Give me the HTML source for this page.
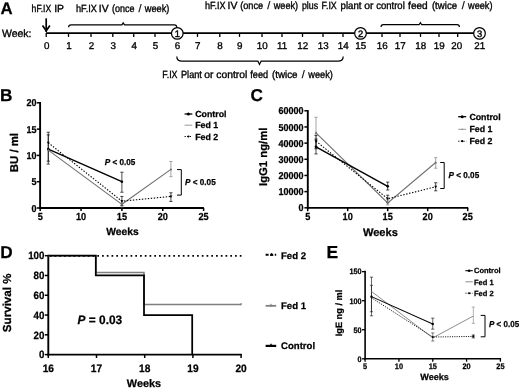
<!DOCTYPE html>
<html><head><meta charset="utf-8"><title>Figure</title>
<style>
html,body{margin:0;padding:0;background:#fff;}
body{width:520px;height:389px;overflow:hidden;font-family:"Liberation Sans",sans-serif;}
svg{display:block;font-family:"Liberation Sans",sans-serif;filter:blur(0.35px);}
</style></head><body>
<svg width="520" height="389" viewBox="0 0 520 389" text-rendering="geometricPrecision">
<rect width="520" height="389" fill="#fff"/>
<g fill="none" stroke="#000">
<text x="0.5" y="14.1" font-size="16.8" font-weight="bold" fill="#000" stroke-width="0.25">A</text>
<text x="31.6" y="12.2" font-size="10.4" textLength="19.6" lengthAdjust="spacingAndGlyphs" fill="#000" stroke-width="0.35">hF.IX</text>
<text x="59.05" y="12.2" font-size="10.4" text-anchor="middle" fill="#000" stroke-width="0.35">IP</text>
<text x="76" y="12.2" font-size="10.4" textLength="20.9" lengthAdjust="spacingAndGlyphs" fill="#000" stroke-width="0.35">hF.IX</text>
<text x="103.75" y="12.2" font-size="10.4" text-anchor="middle" fill="#000" stroke-width="0.35">IV</text>
<text x="111.9" y="12.2" font-size="10.4" textLength="22.5" lengthAdjust="spacingAndGlyphs" fill="#000" stroke-width="0.35">(once</text>
<text x="140" y="12.2" font-size="11.0" text-anchor="middle" fill="#000" stroke-width="0.15">/</text>
<text x="144.75" y="12.2" font-size="10.4" textLength="24.65" lengthAdjust="spacingAndGlyphs" fill="#000" stroke-width="0.35">week)</text>
<text x="205" y="9" font-size="10.4" textLength="20.6" lengthAdjust="spacingAndGlyphs" fill="#000" stroke-width="0.35">hF.IX</text>
<text x="232.5" y="9" font-size="10.4" text-anchor="middle" fill="#000" stroke-width="0.35">IV</text>
<text x="240.25" y="9" font-size="10.4" textLength="22.85" lengthAdjust="spacingAndGlyphs" fill="#000" stroke-width="0.35">(once</text>
<text x="268.75" y="9" font-size="11.0" text-anchor="middle" fill="#000" stroke-width="0.15">/</text>
<text x="273.75" y="9" font-size="10.4" textLength="24.35" lengthAdjust="spacingAndGlyphs" fill="#000" stroke-width="0.35">week)</text>
<text x="301.9" y="9" font-size="10.4" textLength="16.2" lengthAdjust="spacingAndGlyphs" fill="#000" stroke-width="0.35">plus</text>
<text x="321.5" y="9" font-size="10.4" textLength="15.3" lengthAdjust="spacingAndGlyphs" fill="#000" stroke-width="0.35">F.IX</text>
<text x="340.6" y="9" font-size="10.4" textLength="20.9" lengthAdjust="spacingAndGlyphs" fill="#000" stroke-width="0.35">plant</text>
<text x="368.75" y="9" font-size="10.4" text-anchor="middle" fill="#000" stroke-width="0.35">or</text>
<text x="376.25" y="9" font-size="10.4" textLength="28.5" lengthAdjust="spacingAndGlyphs" fill="#000" stroke-width="0.35">control</text>
<text x="408.1" y="9" font-size="10.4" textLength="19.65" lengthAdjust="spacingAndGlyphs" fill="#000" stroke-width="0.35">feed</text>
<text x="431.9" y="9" font-size="10.4" textLength="25.2" lengthAdjust="spacingAndGlyphs" fill="#000" stroke-width="0.35">(twice</text>
<text x="463.3" y="9" font-size="11.0" text-anchor="middle" fill="#000" stroke-width="0.15">/</text>
<text x="468.1" y="9" font-size="10.4" textLength="24.4" lengthAdjust="spacingAndGlyphs" fill="#000" stroke-width="0.35">week)</text>
<text x="162.25" y="78.3" font-size="10.4" textLength="15.25" lengthAdjust="spacingAndGlyphs" fill="#000" stroke-width="0.35">F.IX</text>
<text x="181" y="78.3" font-size="10.4" textLength="20.9" lengthAdjust="spacingAndGlyphs" fill="#000" stroke-width="0.35">Plant</text>
<text x="208.88" y="78.3" font-size="10.4" text-anchor="middle" fill="#000" stroke-width="0.35">or</text>
<text x="216.25" y="78.3" font-size="10.4" textLength="31" lengthAdjust="spacingAndGlyphs" fill="#000" stroke-width="0.35">control</text>
<text x="250.25" y="78.3" font-size="10.4" textLength="17.85" lengthAdjust="spacingAndGlyphs" fill="#000" stroke-width="0.35">feed</text>
<text x="271.9" y="78.3" font-size="10.4" textLength="25.6" lengthAdjust="spacingAndGlyphs" fill="#000" stroke-width="0.35">(twice</text>
<text x="303.2" y="78.3" font-size="11.0" text-anchor="middle" fill="#000" stroke-width="0.15">/</text>
<text x="308.3" y="78.3" font-size="10.4" textLength="24.5" lengthAdjust="spacingAndGlyphs" fill="#000" stroke-width="0.35">week)</text>
<text x="2" y="37.4" font-size="10.6" textLength="29.5" lengthAdjust="spacingAndGlyphs" fill="#000" stroke-width="0.35">Week:</text>
<path d="M46.2,18.3L46.2,32" stroke-width="1.7"/>
<path d="M42.5,25.6L46.2,30.8L49.9,25.6" stroke-width="1.7"/>
<path d="M46,33.15L479,33.15" stroke-width="1.7"/>
<path d="M46.2,33L46.2,36.9" stroke-width="1.3"/>
<text x="46.7" y="49.2" font-size="9.8" text-anchor="middle" fill="#000" stroke-width="0.33">0</text>
<path d="M68.5,33L68.5,36.9" stroke-width="1.3"/>
<text x="69" y="49.2" font-size="9.8" text-anchor="middle" fill="#000" stroke-width="0.33">1</text>
<path d="M91,33L91,36.9" stroke-width="1.3"/>
<text x="91.5" y="49.2" font-size="9.8" text-anchor="middle" fill="#000" stroke-width="0.33">2</text>
<path d="M112.8,33L112.8,36.9" stroke-width="1.3"/>
<text x="113.3" y="49.2" font-size="9.8" text-anchor="middle" fill="#000" stroke-width="0.33">3</text>
<path d="M133.75,33L133.75,36.9" stroke-width="1.3"/>
<text x="134.25" y="49.2" font-size="9.8" text-anchor="middle" fill="#000" stroke-width="0.33">4</text>
<path d="M155,33L155,36.9" stroke-width="1.3"/>
<text x="155.5" y="49.2" font-size="9.8" text-anchor="middle" fill="#000" stroke-width="0.33">5</text>
<text x="177.5" y="49.2" font-size="9.8" text-anchor="middle" fill="#000" stroke-width="0.33">6</text>
<path d="M197.5,33L197.5,36.9" stroke-width="1.3"/>
<text x="197.7" y="49.2" font-size="9.8" text-anchor="middle" fill="#000" stroke-width="0.33">7</text>
<path d="M219.8,33L219.8,36.9" stroke-width="1.3"/>
<text x="220" y="49.2" font-size="9.8" text-anchor="middle" fill="#000" stroke-width="0.33">8</text>
<path d="M239.5,33L239.5,36.9" stroke-width="1.3"/>
<text x="239.7" y="49.2" font-size="9.8" text-anchor="middle" fill="#000" stroke-width="0.33">9</text>
<path d="M262,33L262,36.9" stroke-width="1.3"/>
<text x="262.2" y="49.2" font-size="9.8" text-anchor="middle" fill="#000" stroke-width="0.33">10</text>
<path d="M282,33L282,36.9" stroke-width="1.3"/>
<text x="282.2" y="49.2" font-size="9.8" text-anchor="middle" fill="#000" stroke-width="0.33">11</text>
<path d="M302.5,33L302.5,36.9" stroke-width="1.3"/>
<text x="302.7" y="49.2" font-size="9.8" text-anchor="middle" fill="#000" stroke-width="0.33">12</text>
<path d="M323,33L323,36.9" stroke-width="1.3"/>
<text x="323.2" y="49.2" font-size="9.8" text-anchor="middle" fill="#000" stroke-width="0.33">13</text>
<path d="M343,33L343,36.9" stroke-width="1.3"/>
<text x="343.2" y="49.2" font-size="9.8" text-anchor="middle" fill="#000" stroke-width="0.33">14</text>
<text x="360.7" y="49.2" font-size="9.8" text-anchor="middle" fill="#000" stroke-width="0.33">15</text>
<path d="M382,33L382,36.9" stroke-width="1.3"/>
<text x="382.2" y="49.2" font-size="9.8" text-anchor="middle" fill="#000" stroke-width="0.33">16</text>
<path d="M400,33L400,36.9" stroke-width="1.3"/>
<text x="400.2" y="49.2" font-size="9.8" text-anchor="middle" fill="#000" stroke-width="0.33">17</text>
<path d="M420.5,33L420.5,36.9" stroke-width="1.3"/>
<text x="420.7" y="49.2" font-size="9.8" text-anchor="middle" fill="#000" stroke-width="0.33">18</text>
<path d="M439,33L439,36.9" stroke-width="1.3"/>
<text x="439.2" y="49.2" font-size="9.8" text-anchor="middle" fill="#000" stroke-width="0.33">19</text>
<path d="M457.7,33L457.7,36.9" stroke-width="1.3"/>
<text x="456.8" y="49.2" font-size="9.8" text-anchor="middle" fill="#000" stroke-width="0.33">20</text>
<text x="479.7" y="49.2" font-size="9.8" text-anchor="middle" fill="#000" stroke-width="0.33">21</text>
<circle cx="177.3" cy="33.4" r="5.8" fill="#fff" stroke="#000" stroke-width="1.2"/>
<text x="177.4" y="36.7" font-size="9.4" text-anchor="middle" fill="#000" stroke-width="0.4">1</text>
<circle cx="360.5" cy="33.4" r="5.8" fill="#fff" stroke="#000" stroke-width="1.2"/>
<text x="360.6" y="36.7" font-size="9.4" text-anchor="middle" fill="#000" stroke-width="0.4">2</text>
<circle cx="479.5" cy="33.4" r="5.8" fill="#fff" stroke="#000" stroke-width="1.2"/>
<text x="479.6" y="36.7" font-size="9.4" text-anchor="middle" fill="#000" stroke-width="0.4">3</text>
<path d="M68.6,27.3 Q68.6,24.8 71,24.8 L121.9,24.8 L123.2,22.8 L124.5,24.8 L174.3,24.8 Q176.8,24.8 176.8,27.6" stroke-width="1.2"/>
<path d="M381,27.1 Q381,24.7 383.4,24.7 L419.1,24.7 L420.4,22.6 L421.7,24.7 L457,24.7 Q459.4,24.7 459.4,27.1" stroke-width="1.2"/>
<path d="M176.8,56.5 Q176.8,61.2 182,61.2 L257.9,61.2 L259.5,64.4 L261.1,61.2 L338,61.2 Q343.2,61.2 343.2,56.5" stroke-width="1.2"/>
<text x="0.1" y="100.7" font-size="17.2" font-weight="bold" fill="#000" stroke-width="0.25">B</text>
<path d="M40.1,102L40.1,208.9" stroke-width="1.9"/>
<path d="M39.2,208L203.9,208" stroke-width="1.9"/>
<path d="M36.8,208L40,208" stroke-width="1.5"/>
<text x="0" y="0" font-size="10.0" transform="translate(36.4 211.5) scale(0.9 1)" font-weight="bold" text-anchor="end" fill="#000" stroke-width="0.25">0</text>
<path d="M36.8,181.7L40,181.7" stroke-width="1.5"/>
<text x="0" y="0" font-size="10.0" transform="translate(36.4 185.2) scale(0.9 1)" font-weight="bold" text-anchor="end" fill="#000" stroke-width="0.25">5</text>
<path d="M36.8,155.4L40,155.4" stroke-width="1.5"/>
<text x="0" y="0" font-size="10.0" transform="translate(36.4 158.9) scale(0.9 1)" font-weight="bold" text-anchor="end" fill="#000" stroke-width="0.25">10</text>
<path d="M36.8,129.1L40,129.1" stroke-width="1.5"/>
<text x="0" y="0" font-size="10.0" transform="translate(36.4 132.6) scale(0.9 1)" font-weight="bold" text-anchor="end" fill="#000" stroke-width="0.25">15</text>
<path d="M36.8,102.8L40,102.8" stroke-width="1.5"/>
<text x="0" y="0" font-size="10.0" transform="translate(36.4 106.3) scale(0.9 1)" font-weight="bold" text-anchor="end" fill="#000" stroke-width="0.25">20</text>
<path d="M40.2,208L40.2,211" stroke-width="1.5"/>
<text x="0" y="0" font-size="10.2" transform="translate(40.2 220.1) scale(0.9 1)" font-weight="bold" text-anchor="middle" fill="#000" stroke-width="0.25">5</text>
<path d="M81.05,208L81.05,211" stroke-width="1.5"/>
<text x="0" y="0" font-size="10.2" transform="translate(81.05 220.1) scale(0.9 1)" font-weight="bold" text-anchor="middle" fill="#000" stroke-width="0.25">10</text>
<path d="M121.9,208L121.9,211" stroke-width="1.5"/>
<text x="0" y="0" font-size="10.2" transform="translate(121.9 220.1) scale(0.9 1)" font-weight="bold" text-anchor="middle" fill="#000" stroke-width="0.25">15</text>
<path d="M162.75,208L162.75,211" stroke-width="1.5"/>
<text x="0" y="0" font-size="10.2" transform="translate(162.75 220.1) scale(0.9 1)" font-weight="bold" text-anchor="middle" fill="#000" stroke-width="0.25">20</text>
<path d="M203.6,208L203.6,211" stroke-width="1.5"/>
<text x="0" y="0" font-size="10.2" transform="translate(203.6 220.1) scale(0.9 1)" font-weight="bold" text-anchor="middle" fill="#000" stroke-width="0.25">25</text>
<text x="122.5" y="234.6" font-size="10.3" font-weight="bold" text-anchor="middle" fill="#000" stroke-width="0.25">Weeks</text>
<text x="17.6" y="152.6" font-size="11.4" transform="rotate(-90 17.6 152.6)" font-weight="bold" text-anchor="middle" fill="#000" stroke-width="0.25">BU / ml</text>
<path d="M48.27,164.08V132.26M46.67,164.08H49.87M46.67,132.26H49.87" stroke-width="0.7" stroke="#000"/>
<path d="M48.27,161.19V134.89M46.67,161.19H49.87M46.67,134.89H49.87" stroke-width="0.7" stroke="#000"/>
<path d="M121.9,192.22V172.23M120.3,192.22H123.5M120.3,172.23H123.5" stroke-width="0.7" stroke="#000"/>
<path d="M121.9,206.95V200.64M120.3,206.95H123.5M120.3,200.64H123.5" stroke-width="0.7" stroke="#808080"/>
<path d="M121.9,205.37V196.43M120.3,205.37H123.5M120.3,196.43H123.5" stroke-width="0.7" stroke="#000"/>
<path d="M170.92,176.7V161.45M169.32,176.7H172.52M169.32,161.45H172.52" stroke-width="0.7" stroke="#808080"/>
<path d="M170.92,201.43V192.75M169.32,201.43H172.52M169.32,192.75H172.52" stroke-width="0.7" stroke="#000"/>
<path d="M48.27,150.14L121.9,204.32L170.92,169.34" stroke-width="1.1" stroke="#707070"/>
<path d="M48.27,142.78L121.9,201.16L170.92,196.43" stroke-width="1.1" stroke-dasharray="1.4 1.6"/>
<path d="M48.27,149.09L121.9,181.7" stroke-width="1.4"/>
<circle cx="48.27" cy="149.09" r="1.3" fill="#000" stroke="none"/>
<circle cx="121.9" cy="181.7" r="1.3" fill="#000" stroke="none"/>
<path d="M169.42,195.38L170.92,197.93L172.42,195.38Z" fill="#000" stroke="none"/>
<path d="M46.87,141.8L48.27,144.18L49.67,141.8Z" fill="#000" stroke="none"/>
<path d="M120.6,200.25L121.9,202.46L123.2,200.25Z" fill="#000" stroke="none"/>
<path d="M46.97,151.05L48.27,148.84L49.57,151.05Z" fill="#707070" stroke="none"/>
<path d="M120.6,205.23L121.9,203.02L123.2,205.23Z" fill="#707070" stroke="none"/>
<path d="M169.52,170.32L170.92,167.94L172.32,170.32Z" fill="#707070" stroke="none"/>
<text x="104.8" y="165.4" font-size="8.6" font-weight="bold" fill="#000" stroke-width="0.25" textLength="30.6" lengthAdjust="spacingAndGlyphs"><tspan font-style="italic">P</tspan> &lt; 0.05</text>
<path d="M177,169.6L181.3,169.6L181.3,195.1L177,195.1" stroke-width="1"/>
<text x="185.1" y="185.1" font-size="8.6" font-weight="bold" fill="#000" stroke-width="0.25" textLength="30.6" lengthAdjust="spacingAndGlyphs"><tspan font-style="italic">P</tspan> &lt; 0.05</text>
<path d="M184.6,114L192.3,114" stroke-width="1.3"/>
<circle cx="188.4" cy="114" r="1.5" fill="#000" stroke="none"/>
<text x="195.2" y="117.1" font-size="8.8" font-weight="bold" fill="#000" stroke-width="0.25">Control</text>
<path d="M184.6,125.2L192.3,125.2" stroke-width="1.0" stroke="#999"/>
<text x="195.2" y="128.3" font-size="8.8" font-weight="bold" fill="#000" stroke-width="0.25">Fed 1</text>
<path d="M184.6,136.5L192.3,136.5" stroke-width="1.1" stroke-dasharray="1.2 1.4"/>
<circle cx="188.4" cy="136.5" r="1.1" fill="#000" stroke="none"/>
<text x="195.2" y="139.6" font-size="8.8" font-weight="bold" fill="#000" stroke-width="0.25">Fed 2</text>
<text x="250.4" y="101.1" font-size="17.2" font-weight="bold" fill="#000" stroke-width="0.25">C</text>
<path d="M307.8,110L307.8,208.8" stroke-width="1.9"/>
<path d="M306.9,207.9L468.2,207.9" stroke-width="1.9"/>
<path d="M304.4,207.8L307.7,207.8" stroke-width="1.5"/>
<text x="0" y="0" font-size="10.0" transform="translate(303.5 211.35) scale(0.9 1)" font-weight="bold" text-anchor="end" fill="#000" stroke-width="0.25">0</text>
<path d="M304.4,191.63L307.7,191.63" stroke-width="1.5"/>
<text x="0" y="0" font-size="10.0" transform="translate(303.5 195.18) scale(0.9 1)" font-weight="bold" text-anchor="end" fill="#000" stroke-width="0.25">10000</text>
<path d="M304.4,175.46L307.7,175.46" stroke-width="1.5"/>
<text x="0" y="0" font-size="10.0" transform="translate(303.5 179.01) scale(0.9 1)" font-weight="bold" text-anchor="end" fill="#000" stroke-width="0.25">20000</text>
<path d="M304.4,159.29L307.7,159.29" stroke-width="1.5"/>
<text x="0" y="0" font-size="10.0" transform="translate(303.5 162.84) scale(0.9 1)" font-weight="bold" text-anchor="end" fill="#000" stroke-width="0.25">30000</text>
<path d="M304.4,143.12L307.7,143.12" stroke-width="1.5"/>
<text x="0" y="0" font-size="10.0" transform="translate(303.5 146.67) scale(0.9 1)" font-weight="bold" text-anchor="end" fill="#000" stroke-width="0.25">40000</text>
<path d="M304.4,126.95L307.7,126.95" stroke-width="1.5"/>
<text x="0" y="0" font-size="10.0" transform="translate(303.5 130.5) scale(0.9 1)" font-weight="bold" text-anchor="end" fill="#000" stroke-width="0.25">50000</text>
<path d="M304.4,110.78L307.7,110.78" stroke-width="1.5"/>
<text x="0" y="0" font-size="10.0" transform="translate(303.5 114.33) scale(0.9 1)" font-weight="bold" text-anchor="end" fill="#000" stroke-width="0.25">60000</text>
<path d="M307.7,207.9L307.7,211.2" stroke-width="1.5"/>
<text x="0" y="0" font-size="10.2" transform="translate(307.7 220.1) scale(0.9 1)" font-weight="bold" text-anchor="middle" fill="#000" stroke-width="0.25">5</text>
<path d="M347.7,207.9L347.7,211.2" stroke-width="1.5"/>
<text x="0" y="0" font-size="10.2" transform="translate(347.7 220.1) scale(0.9 1)" font-weight="bold" text-anchor="middle" fill="#000" stroke-width="0.25">10</text>
<path d="M387.7,207.9L387.7,211.2" stroke-width="1.5"/>
<text x="0" y="0" font-size="10.2" transform="translate(387.7 220.1) scale(0.9 1)" font-weight="bold" text-anchor="middle" fill="#000" stroke-width="0.25">15</text>
<path d="M427.7,207.9L427.7,211.2" stroke-width="1.5"/>
<text x="0" y="0" font-size="10.2" transform="translate(427.7 220.1) scale(0.9 1)" font-weight="bold" text-anchor="middle" fill="#000" stroke-width="0.25">20</text>
<path d="M467.7,207.9L467.7,211.2" stroke-width="1.5"/>
<text x="0" y="0" font-size="10.2" transform="translate(467.7 220.1) scale(0.9 1)" font-weight="bold" text-anchor="middle" fill="#000" stroke-width="0.25">25</text>
<text x="380.4" y="236.1" font-size="11.1" font-weight="bold" text-anchor="middle" fill="#000" stroke-width="0.25">Weeks</text>
<text x="267.2" y="156.8" font-size="11.3" transform="rotate(-90 267.2 156.8)" font-weight="bold" text-anchor="middle" fill="#000" stroke-width="0.25">IgG1 ng/ml</text>
<path d="M316,146.35V117.25M314.4,146.35H317.6M314.4,117.25H317.6" stroke-width="0.7" stroke="#808080"/>
<path d="M316,153.95V139.08M314.4,153.95H317.6M314.4,139.08H317.6" stroke-width="0.7" stroke="#000"/>
<path d="M316,148.78V135.36M314.4,148.78H317.6M314.4,135.36H317.6" stroke-width="0.7" stroke="#000"/>
<path d="M387.7,190.01V182.09M386.1,190.01H389.3M386.1,182.09H389.3" stroke-width="0.7" stroke="#000"/>
<path d="M387.7,202.46V195.19M386.1,202.46H389.3M386.1,195.19H389.3" stroke-width="0.7" stroke="#000"/>
<path d="M387.7,204.89V199.72M386.1,204.89H389.3M386.1,199.72H389.3" stroke-width="0.7" stroke="#808080"/>
<path d="M435.7,168.18V157.67M434.1,168.18H437.3M434.1,157.67H437.3" stroke-width="0.7" stroke="#808080"/>
<path d="M435.7,190.82V182.74M434.1,190.82H437.3M434.1,182.74H437.3" stroke-width="0.7" stroke="#000"/>
<path d="M316,132.77L387.7,202.95L435.7,162.52" stroke-width="1.1" stroke="#707070"/>
<path d="M316,141.18L387.7,198.74L435.7,186.78" stroke-width="1.1" stroke-dasharray="1.4 1.6"/>
<path d="M316,146.84L387.7,186.37" stroke-width="1.4"/>
<circle cx="316" cy="146.84" r="1.3" fill="#000" stroke="none"/>
<circle cx="387.7" cy="186.37" r="1.3" fill="#000" stroke="none"/>
<path d="M434.2,185.73L435.7,188.28L437.2,185.73Z" fill="#000" stroke="none"/>
<path d="M314.5,140.13L316,142.68L317.5,140.13Z" fill="#000" stroke="none"/>
<path d="M386.4,197.83L387.7,200.04L389,197.83Z" fill="#000" stroke="none"/>
<path d="M314.5,133.82L316,131.27L317.5,133.82Z" fill="#707070" stroke="none"/>
<path d="M386.4,203.86L387.7,201.65L389,203.86Z" fill="#707070" stroke="none"/>
<path d="M434.3,163.5L435.7,161.12L437.1,163.5Z" fill="#707070" stroke="none"/>
<path d="M440.2,162.5L444.2,162.5L444.2,188.5L440.2,188.5" stroke-width="1"/>
<text x="448.6" y="178.2" font-size="8.6" font-weight="bold" fill="#000" stroke-width="0.25" textLength="30.6" lengthAdjust="spacingAndGlyphs"><tspan font-style="italic">P</tspan> &lt; 0.05</text>
<path d="M458.2,116.7L466.2,116.7" stroke-width="1.3"/>
<circle cx="462.2" cy="116.7" r="1.5" fill="#000" stroke="none"/>
<text x="469.4" y="119.8" font-size="8.8" font-weight="bold" fill="#000" stroke-width="0.25">Control</text>
<path d="M458.2,129.3L466.2,129.3" stroke-width="1.0" stroke="#999"/>
<circle cx="462.2" cy="129.3" r="0.9" fill="#999" stroke="none"/>
<text x="469.4" y="132.4" font-size="8.8" font-weight="bold" fill="#000" stroke-width="0.25">Fed 1</text>
<path d="M458.2,141.2L466.2,141.2" stroke-width="1.1" stroke-dasharray="1.2 1.4"/>
<circle cx="462.2" cy="141.2" r="1.1" fill="#000" stroke="none"/>
<text x="469.4" y="144.3" font-size="8.8" font-weight="bold" fill="#000" stroke-width="0.25">Fed 2</text>
<text x="0.2" y="257.7" font-size="17.2" font-weight="bold" fill="#000" stroke-width="0.25">D</text>
<path d="M48.3,254.8L48.3,355.5" stroke-width="1.9"/>
<path d="M47.4,354.6L241.9,354.6" stroke-width="1.9"/>
<path d="M44.8,354.6L48.2,354.6" stroke-width="1.5"/>
<text x="0" y="0" font-size="10.6" transform="translate(44.4 358.3) scale(0.92 1)" font-weight="bold" text-anchor="end" fill="#000" stroke-width="0.25">0</text>
<path d="M44.8,334.82L48.2,334.82" stroke-width="1.5"/>
<text x="0" y="0" font-size="10.6" transform="translate(44.4 338.52) scale(0.92 1)" font-weight="bold" text-anchor="end" fill="#000" stroke-width="0.25">20</text>
<path d="M44.8,315.04L48.2,315.04" stroke-width="1.5"/>
<text x="0" y="0" font-size="10.6" transform="translate(44.4 318.74) scale(0.92 1)" font-weight="bold" text-anchor="end" fill="#000" stroke-width="0.25">40</text>
<path d="M44.8,295.26L48.2,295.26" stroke-width="1.5"/>
<text x="0" y="0" font-size="10.6" transform="translate(44.4 298.96) scale(0.92 1)" font-weight="bold" text-anchor="end" fill="#000" stroke-width="0.25">60</text>
<path d="M44.8,275.48L48.2,275.48" stroke-width="1.5"/>
<text x="0" y="0" font-size="10.6" transform="translate(44.4 279.18) scale(0.92 1)" font-weight="bold" text-anchor="end" fill="#000" stroke-width="0.25">80</text>
<path d="M44.8,255.7L48.2,255.7" stroke-width="1.5"/>
<text x="0" y="0" font-size="10.6" transform="translate(44.4 259.4) scale(0.92 1)" font-weight="bold" text-anchor="end" fill="#000" stroke-width="0.25">100</text>
<path d="M48.3,354.6L48.3,358" stroke-width="1.5"/>
<text x="0" y="0" font-size="10.8" transform="translate(48.3 371.9) scale(0.94 1)" font-weight="bold" text-anchor="middle" fill="#000" stroke-width="0.25">16</text>
<path d="M96.5,354.6L96.5,358" stroke-width="1.5"/>
<text x="0" y="0" font-size="10.8" transform="translate(96.5 371.9) scale(0.94 1)" font-weight="bold" text-anchor="middle" fill="#000" stroke-width="0.25">17</text>
<path d="M144.7,354.6L144.7,358" stroke-width="1.5"/>
<text x="0" y="0" font-size="10.8" transform="translate(144.7 371.9) scale(0.94 1)" font-weight="bold" text-anchor="middle" fill="#000" stroke-width="0.25">18</text>
<path d="M192.9,354.6L192.9,358" stroke-width="1.5"/>
<text x="0" y="0" font-size="10.8" transform="translate(192.9 371.9) scale(0.94 1)" font-weight="bold" text-anchor="middle" fill="#000" stroke-width="0.25">19</text>
<path d="M241.1,354.6L241.1,358" stroke-width="1.5"/>
<text x="0" y="0" font-size="10.8" transform="translate(241.1 371.9) scale(0.94 1)" font-weight="bold" text-anchor="middle" fill="#000" stroke-width="0.25">20</text>
<text x="144" y="386.6" font-size="10.9" font-weight="bold" text-anchor="middle" fill="#000" stroke-width="0.25">Weeks</text>
<text x="11.5" y="302.8" font-size="11.6" transform="rotate(-90 11.5 302.8)" font-weight="bold" text-anchor="middle" fill="#000" stroke-width="0.25">Survival %</text>
<path d="M48.3,255.7L95.8,255.7L95.8,272.51L144,272.51L144,304.56L241.1,304.56" stroke-width="1.5" stroke="#808080"/>
<path d="M241.1,302.96L241.1,305.16" stroke-width="1.2" stroke="#808080"/>
<path d="M48.3,255.7L95.8,255.7L95.8,275.48L144,275.48L144,315.04L192.2,315.04L192.2,354.6" stroke-width="1.75"/>
<path d="M49.8,255.8L242.6,255.8" stroke-width="1.8" stroke-dasharray="1.7 3.05"/>
<text x="77.6" y="323.8" font-size="12.3" font-weight="bold" fill="#000" stroke-width="0.25" textLength="44.6" lengthAdjust="spacingAndGlyphs"><tspan font-style="italic">P</tspan> = 0.03</text>
<path d="M265.6,254.8L276.2,254.8" stroke-width="2.1" stroke-dasharray="3 1.6"/>
<path d="M269.8,255.86L271.6,252.8L273.4,255.86Z" fill="#000" stroke="none"/>
<text x="281" y="259" font-size="9.6" font-weight="bold" fill="#000" stroke-width="0.25">Fed 2</text>
<path d="M265.6,305.8L276.2,305.8" stroke-width="1.8" stroke="#808080"/>
<path d="M269.3,306.49L271,303.6L272.7,306.49Z" fill="#808080" stroke="none"/>
<text x="281" y="309.4" font-size="9.6" font-weight="bold" fill="#000" stroke-width="0.25">Fed 1</text>
<path d="M265.6,345.9L276.2,345.9" stroke-width="2.2"/>
<path d="M269.1,346.53L271,343.3L272.9,346.53Z" fill="#000" stroke="none"/>
<text x="281" y="349.1" font-size="9.6" font-weight="bold" fill="#000" stroke-width="0.25">Control</text>
<text x="326.4" y="257.7" font-size="17.4" font-weight="bold" fill="#000" stroke-width="0.25">E</text>
<path d="M365.1,270.8L365.1,359.6" stroke-width="1.6"/>
<path d="M364.3,358.8L501.1,358.8" stroke-width="1.6"/>
<path d="M362,358.8L365,358.8" stroke-width="1.3"/>
<text x="0" y="0" font-size="7.9" transform="translate(361.6 361.6) scale(0.92 1)" font-weight="bold" text-anchor="end" fill="#000" stroke-width="0.25">0</text>
<path d="M362,329.75L365,329.75" stroke-width="1.3"/>
<text x="0" y="0" font-size="7.9" transform="translate(361.6 332.55) scale(0.92 1)" font-weight="bold" text-anchor="end" fill="#000" stroke-width="0.25">50</text>
<path d="M362,300.7L365,300.7" stroke-width="1.3"/>
<text x="0" y="0" font-size="7.9" transform="translate(361.6 303.5) scale(0.92 1)" font-weight="bold" text-anchor="end" fill="#000" stroke-width="0.25">100</text>
<path d="M362,271.65L365,271.65" stroke-width="1.3"/>
<text x="0" y="0" font-size="7.9" transform="translate(361.6 274.45) scale(0.92 1)" font-weight="bold" text-anchor="end" fill="#000" stroke-width="0.25">150</text>
<path d="M365.1,358.8L365.1,361.7" stroke-width="1.3"/>
<text x="0" y="0" font-size="8.0" transform="translate(365.1 369) scale(0.92 1)" font-weight="bold" text-anchor="middle" fill="#000" stroke-width="0.25">5</text>
<path d="M398.93,358.8L398.93,361.7" stroke-width="1.3"/>
<text x="0" y="0" font-size="8.0" transform="translate(398.93 369) scale(0.92 1)" font-weight="bold" text-anchor="middle" fill="#000" stroke-width="0.25">10</text>
<path d="M432.75,358.8L432.75,361.7" stroke-width="1.3"/>
<text x="0" y="0" font-size="8.0" transform="translate(432.75 369) scale(0.92 1)" font-weight="bold" text-anchor="middle" fill="#000" stroke-width="0.25">15</text>
<path d="M466.58,358.8L466.58,361.7" stroke-width="1.3"/>
<text x="0" y="0" font-size="8.0" transform="translate(466.58 369) scale(0.92 1)" font-weight="bold" text-anchor="middle" fill="#000" stroke-width="0.25">20</text>
<path d="M500.4,358.8L500.4,361.7" stroke-width="1.3"/>
<text x="0" y="0" font-size="8.0" transform="translate(500.4 369) scale(0.92 1)" font-weight="bold" text-anchor="middle" fill="#000" stroke-width="0.25">25</text>
<text x="434.6" y="380.3" font-size="9.1" font-weight="bold" text-anchor="middle" fill="#000" stroke-width="0.25">Weeks</text>
<text x="342.4" y="313" font-size="9.2" transform="rotate(-90 342.4 313)" font-weight="bold" text-anchor="middle" fill="#000" stroke-width="0.25">IgE ng / ml</text>
<path d="M371.47,315.81V277.17M369.87,315.81H373.07M369.87,277.17H373.07" stroke-width="0.6" stroke="#000"/>
<path d="M371.47,311.74V285.3M369.87,311.74H373.07M369.87,285.3H373.07" stroke-width="0.6" stroke="#111"/>
<path d="M432.75,329.17V318.13M431.15,329.17H434.35M431.15,318.13H434.35" stroke-width="0.6" stroke="#000"/>
<path d="M432.75,341.02V332.89M431.15,341.02H434.35M431.15,332.89H434.35" stroke-width="0.6" stroke="#333"/>
<path d="M473.34,323.36V307.09M471.74,323.36H474.94M471.74,307.09H474.94" stroke-width="0.6" stroke="#808080"/>
<path d="M473.34,337.88V334.98M471.74,337.88H474.94M471.74,334.98H474.94" stroke-width="0.6" stroke="#000"/>
<path d="M371.47,291.4L432.75,337.88L473.34,316.04" stroke-width="0.9" stroke="#808080"/>
<path d="M371.47,297.8L432.75,337.01L473.34,336.43" stroke-width="0.9" stroke-dasharray="1.1 1.2"/>
<path d="M371.47,296.63L432.75,323.94" stroke-width="1.05"/>
<circle cx="371.47" cy="296.63" r="1.2" fill="#000" stroke="none"/>
<circle cx="432.75" cy="323.94" r="1.2" fill="#000" stroke="none"/>
<circle cx="473.34" cy="336.43" r="1.1" fill="#000" stroke="none"/>
<circle cx="432.75" cy="337.01" r="1.0" fill="#000" stroke="none"/>
<path d="M480.7,315.4L485,315.4L485,336.8L480.7,336.8" stroke-width="1"/>
<text x="489" y="326.8" font-size="8.7" font-weight="bold" fill="#000" stroke-width="0.25" textLength="30.2" lengthAdjust="spacingAndGlyphs"><tspan font-style="italic">P</tspan> &lt; 0.05</text>
<path d="M465.4,270.7L472.8,270.7" stroke-width="1.1"/>
<circle cx="469.1" cy="270.7" r="1.3" fill="#000" stroke="none"/>
<text x="474" y="273.4" font-size="7.5" font-weight="bold" fill="#000" stroke-width="0.25">Control</text>
<path d="M465.4,281.8L472.8,281.8" stroke-width="0.9" stroke="#808080"/>
<text x="474" y="284.5" font-size="7.5" font-weight="bold" fill="#000" stroke-width="0.25">Fed 1</text>
<path d="M465.4,293.2L472.8,293.2" stroke-width="0.9" stroke-dasharray="1.1 1.2"/>
<circle cx="469.1" cy="293.2" r="1.0" fill="#000" stroke="none"/>
<text x="474" y="295.9" font-size="7.5" font-weight="bold" fill="#000" stroke-width="0.25">Fed 2</text>
</g></svg></body></html>
